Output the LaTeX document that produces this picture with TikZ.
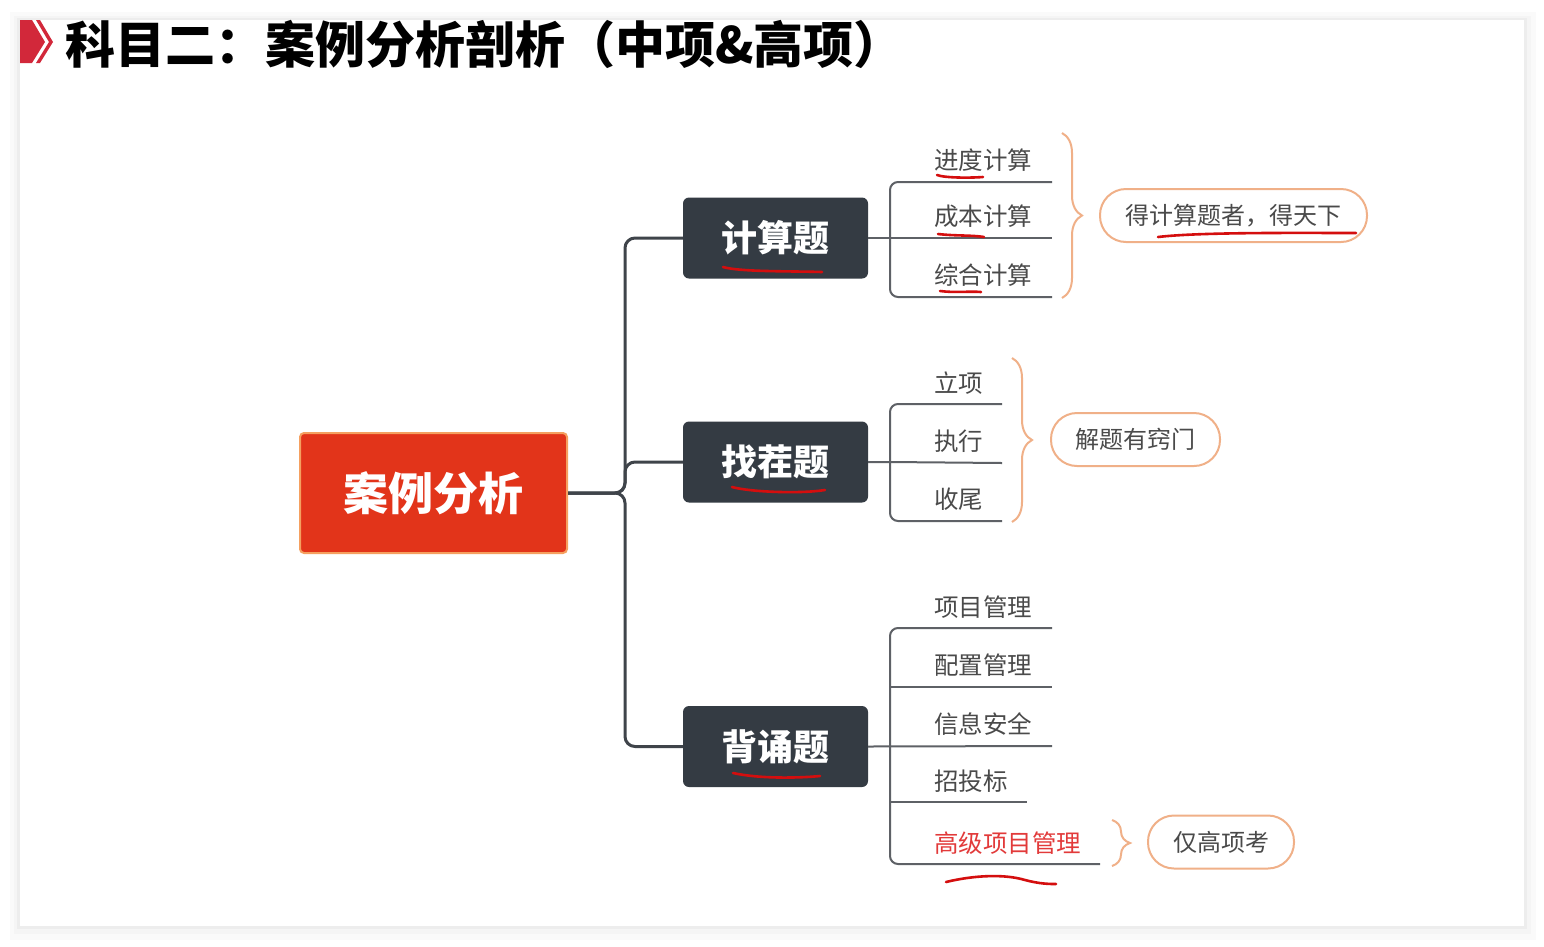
\documentclass[tikz,border=0pt]{standalone}
\usepackage{fontspec}
\setmainfont{Noto Sans CJK SC}
\usetikzlibrary{decorations.pathreplacing}
\definecolor{rootred}{HTML}{E2341A}
\definecolor{rootedge}{HTML}{F5A060}
\definecolor{darkbox}{HTML}{343B43}
\definecolor{conncol}{HTML}{3F444A}
\definecolor{leafcol}{HTML}{5E6166}
\definecolor{txtgray}{HTML}{4A4A4A}
\definecolor{peach}{HTML}{F0B088}
\definecolor{penred}{HTML}{D40E0E}
\definecolor{hlred}{HTML}{E23A3A}
\definecolor{chev}{HTML}{D2283A}
\tikzset{
  rootbox/.style={rectangle, rounded corners=4pt, fill=rootred, draw=rootedge, line width=2pt,
    minimum width=267pt, minimum height=120pt, text=white, font=\fontsize{45}{45}\selectfont\bfseries, inner sep=0pt},
  topicbox/.style={rectangle, rounded corners=6pt, fill=darkbox, minimum width=185pt, minimum height=81pt,
    text=white, font=\fontsize{36}{36}\selectfont\bfseries, inner sep=0pt},
  leaftext/.style={anchor=west, inner sep=0pt, text=txtgray, font=\fontsize{24.5}{24.5}\selectfont},
  callout/.style={rectangle, rounded corners=26pt, draw=peach, line width=2pt, fill=white,
    minimum height=53pt, inner sep=0pt, text=txtgray, font=\fontsize{24}{24}\selectfont},
  conn/.style={draw=conncol, line width=3pt},
  leafline/.style={draw=leafcol, line width=2pt},
  bracket/.style={draw=leafcol, line width=2pt, rounded corners=8pt},
  curly/.style={draw=peach, line width=2pt, decorate, decoration={brace, amplitude=20pt, aspect=0.5}},
  pen/.style={draw=penred, line width=2.6pt, line cap=round},
}
\begin{document}
\begin{tikzpicture}[x=1pt, y=-1pt]
\useasboundingbox (0,0) rectangle (1544,946);
% background card with soft shadow
\fill[white] (0,0) rectangle (1544,946);
\fill[black!2] (10,12) rectangle (1536,940);
\fill[black!4] (14,16) rectangle (1531,934);
\fill[black!7] (17,18) rectangle (1527,929);
\fill[white] (20,20) rectangle (1524,926);

% title
\fill[chev] (20,20) -- (32,20) -- (45,42) -- (32,63) -- (20,63) -- cycle;
\fill[chev] (36,20) -- (40,20) -- (53,42) -- (40,63) -- (36,63) -- (49,42) -- cycle;
\node[anchor=west, inner sep=0pt, font=\fontsize{50}{50}\selectfont\bfseries, text=black] (title) at (65,44) {科目二：案例分析剖析（中项\&高项）};

% main nodes
\node[rootbox] (root) at (433.5,493) {案例分析};
\node[topicbox] (calc) at (775.5,238) {计算题};
\node[topicbox] (find) at (775.5,462) {找茬题};
\node[topicbox] (recite) at (775.5,746.5) {背诵题};

\draw[conn, rounded corners=10pt] (root.east) -- ++(57,0) |- (calc.west);
\draw[conn, rounded corners=10pt] (root.east) -- ++(57,0) |- (find.west);
\draw[conn, rounded corners=10pt] (root.east) -- ++(57,0) |- (recite.west);

% group 1
\coordinate (a1) at (1052,182);
\coordinate (a2) at (1052,238);
\coordinate (a3) at (1052,297);
\node[leaftext] (t1) at (934,160) {进度计算};
\node[leaftext] (t2) at (934,216) {成本计算};
\node[leaftext] (t3) at (934,275) {综合计算};
\draw[leafline] (calc.east) -- (a2);
\draw[bracket] (a1) -- (890,182) -- (890,297) -- (a3);
\coordinate (b1s) at (1062,133);
\coordinate (b1e) at (1062,298);
\draw[curly] (b1s) -- (b1e);
\node[callout, minimum width=267pt] (c1) at (1233.5,215.5) {得计算题者，得天下};

% group 2
\coordinate (d1) at (1002,404);
\coordinate (d2) at (1002,463);
\coordinate (d3) at (1002,521);
\node[leaftext] (u1) at (934,383) {立项};
\node[leaftext] (u2) at (934,441) {执行};
\node[leaftext] (u3) at (934,499) {收尾};
\draw[leafline] (find.east) -- (890,462) -- (d2);
\draw[bracket] (d1) -- (890,404) -- (890,521) -- (d3);
\coordinate (b2s) at (1012,358);
\coordinate (b2e) at (1012,522);
\draw[curly] (b2s) -- (b2e);
\node[callout, minimum width=169pt] (c2) at (1135.5,439.5) {解题有窍门};

% group 3
\coordinate (e1) at (1052,628);
\coordinate (e2) at (1052,687);
\coordinate (e3) at (1052,746);
\coordinate (e4) at (1027,802);
\coordinate (e5) at (1100,864);
\node[leaftext] (v1) at (934,607) {项目管理};
\node[leaftext] (v2) at (934,665) {配置管理};
\node[leaftext] (v3) at (934,724) {信息安全};
\node[leaftext] (v4) at (934,781) {招投标};
\node[leaftext, text=hlred] (v5) at (934,843) {高级项目管理};
\draw[leafline] (recite.east) -- (e3);
\draw[bracket] (e1) -- (890,628) -- (890,864) -- (e5);
\draw[bracket] (890,687) -- (e2);
\draw[bracket] (890,802) -- (e4);
\coordinate (b3s) at (1112,820);
\coordinate (b3e) at (1112,866);
\draw[curly, decoration={brace, amplitude=18pt, aspect=0.5}] (b3s) -- (b3e);
\node[callout, minimum width=146pt] (c3) at (1221,842) {仅高项考};

% red pen strokes
\draw[pen] (937,175) .. controls (945,178) and (970,178) .. (983,177);
\draw[pen] (938,234) .. controls (955,236) and (972,235) .. (984,237);
\draw[pen] (940,291) .. controls (955,293) and (970,291) .. (981,292);
\draw[pen] (723,267) .. controls (740,272) and (790,271) .. (822,272);
\draw[pen] (732,487) .. controls (750,492) and (800,494) .. (825,490);
\draw[pen] (733,773) .. controls (760,779) and (800,778) .. (820,776);
\draw[pen] (1158,237) .. controls (1200,232) and (1300,233) .. (1356,233);
\draw[pen] (946,882) .. controls (975,875) and (1005,874) .. (1025,880) .. controls (1040,884) and (1050,884) .. (1056,884);
\end{tikzpicture}
\end{document}
